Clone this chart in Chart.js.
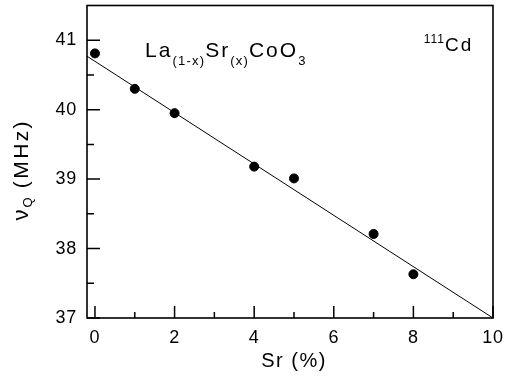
<!DOCTYPE html>
<html>
<head>
<meta charset="utf-8">
<script src="https://cdn.jsdelivr.net/npm/chart.js@4.4.0/dist/chart.umd.min.js"></script>
<style>
  html, body { margin: 0; padding: 0; background: #fff; }
  #wrap { width: 505px; height: 376px; }
</style>
</head>
<body>
<div id="wrap"><canvas id="chart" width="505" height="376"></canvas></div>
<script>
// measured points, Sr content vs quadrupole frequency
const srPct = [0, 1, 2, 4, 5, 7, 8];
const nuQ = [40.81, 40.30, 39.95, 39.18, 39.01, 38.21, 37.63];

// linear fit drawn through the data
const fitX = [-0.2, 10];
const fitY = [40.77, 37.0];

// tick positions (major ones get labels)
const xTicks = [0, 1, 2, 3, 4, 5, 6, 7, 8, 9, 10];
const xLabels = [0, 2, 4, 6, 8, 10];
const yTicks = [37, 37.5, 38, 38.5, 39, 39.5, 40, 40.5, 41];
const yLabels = [37, 38, 39, 40, 41];

const FONT = 'Liberation Sans, Arial, Helvetica, sans-serif';

// draws a string made of pieces with different sizes / baseline shifts
function drawRuns(ctx, x, y, runs) {
    let cx = x;
    runs.forEach(r => {
        ctx.font = r.size + 'px ' + FONT;
        ctx.letterSpacing = (r.ls || 0) + 'px';
        ctx.fillText(r.t, cx, y + (r.dy || 0));
        cx += ctx.measureText(r.t).width;
    });
    ctx.letterSpacing = '0px';
    return cx - x;
}

function runsWidth(ctx, runs) {
    let w = 0;
    runs.forEach(r => {
        ctx.font = r.size + 'px ' + FONT;
        ctx.letterSpacing = (r.ls || 0) + 'px';
        w += ctx.measureText(r.t).width;
    });
    ctx.letterSpacing = '0px';
    return w;
}

const framePlugin = {
    id: 'frame',
    beforeDraw(chart) {
        // slightly wider tracking for the tick labels, like the original
        chart.ctx.letterSpacing = '0.8px';
    },
    afterDraw(chart) {
        const ctx = chart.ctx;
        const a = chart.chartArea;
        const xs = chart.scales.x;
        const ys = chart.scales.y;
        ctx.save();
        ctx.strokeStyle = '#000';
        ctx.fillStyle = '#000';

        // box around the plot
        ctx.lineWidth = 1.6;
        ctx.strokeRect(a.left, a.top, a.right - a.left, a.bottom - a.top);

        // inward tick marks
        ctx.lineWidth = 1.5;
        ctx.beginPath();
        yTicks.forEach(v => {
            const py = ys.getPixelForValue(v);
            const len = yLabels.includes(v) ? 13 : 7;
            ctx.moveTo(a.left, py);
            ctx.lineTo(a.left + len, py);
        });
        xTicks.forEach(v => {
            const px = xs.getPixelForValue(v);
            const len = xLabels.includes(v) ? 12 : 6;
            ctx.moveTo(px, a.bottom);
            ctx.lineTo(px, a.bottom - len);
        });
        ctx.stroke();

        ctx.textBaseline = 'alphabetic';
        ctx.textAlign = 'left';

        // x axis title
        const xt = [{ t: 'Sr (%)', size: 20, ls: 1.5 }];
        const xw = runsWidth(ctx, xt);
        drawRuns(ctx, (a.left + a.right) / 2 + 4 - xw / 2, 367, xt);

        // y axis title with subscript
        const yt = [
            { t: 'ν', size: 22, ls: 2 },
            { t: 'Q', size: 13, dy: 4, ls: 1 },
            { t: ' (MHz)', size: 21, ls: 2.4 }
        ];
        const yw = runsWidth(ctx, yt);
        ctx.save();
        ctx.translate(28, (a.top + a.bottom) / 2 + 8 + yw / 2);
        ctx.rotate(-Math.PI / 2);
        drawRuns(ctx, 0, 0, yt);
        ctx.restore();

        // compound label
        const lx = xs.getPixelForValue(1.26);
        const ly = ys.getPixelForValue(40.76);
        drawRuns(ctx, lx, ly, [
            { t: 'La', size: 21, ls: 2 },
            { t: '(1-x)', size: 13, dy: 8, ls: 1.2 },
            { t: 'Sr', size: 21, ls: 2 },
            { t: '(x)', size: 13, dy: 8, ls: 1.2 },
            { t: 'CoO', size: 21, ls: 2 },
            { t: '3', size: 13, dy: 8, ls: 1.2 }
        ]);

        // isotope label
        const ix = xs.getPixelForValue(8.26);
        const iy = ys.getPixelForValue(40.84);
        drawRuns(ctx, ix, iy, [
            { t: '111', size: 12, dy: -8, ls: 1 },
            { t: 'Cd', size: 19, ls: 2 }
        ]);
        ctx.restore();
    }
};

new Chart(document.getElementById('chart'), {
    type: 'scatter',
    data: {
        datasets: [
            {
                label: 'data',
                data: srPct.map((x, i) => ({ x: x, y: nuQ[i] })),
                backgroundColor: '#000',
                borderColor: '#000',
                pointRadius: 4.5,
                showLine: false
            },
            {
                label: 'fit',
                data: fitX.map((x, i) => ({ x: x, y: fitY[i] })),
                borderColor: '#000',
                borderWidth: 1,
                pointRadius: 0,
                showLine: true,
                fill: false
            }
        ]
    },
    options: {
        responsive: false,
        animation: false,
        layout: { padding: { top: 5, right: 12, left: 0, bottom: 0 } },
        plugins: {
            legend: { display: false },
            tooltip: { enabled: false }
        },
        scales: {
            x: {
                type: 'linear',
                min: -0.2,
                max: 10,
                afterBuildTicks: s => { s.ticks = xTicks.map(v => ({ value: v })); },
                afterFit: s => { s.height = 58; s.paddingLeft = 0; s.paddingRight = 0; },
                grid: { display: false, drawTicks: false },
                border: { display: false },
                ticks: {
                    autoSkip: false,
                    maxRotation: 0,
                    padding: 9,
                    color: '#000',
                    font: { family: FONT, size: 18 },
                    callback: v => xLabels.includes(v) ? String(v) : ''
                }
            },
            y: {
                type: 'linear',
                min: 37,
                max: 41.5,
                afterBuildTicks: s => { s.ticks = yTicks.map(v => ({ value: v })); },
                afterFit: s => { s.width = 87; s.paddingTop = 0; s.paddingBottom = 0; },
                grid: { display: false, drawTicks: false },
                border: { display: false },
                ticks: {
                    autoSkip: false,
                    padding: 10,
                    color: '#000',
                    font: { family: FONT, size: 18 },
                    callback: v => yLabels.includes(v) ? String(v) : ''
                }
            }
        }
    },
    plugins: [framePlugin]
});
</script>
</body>
</html>
